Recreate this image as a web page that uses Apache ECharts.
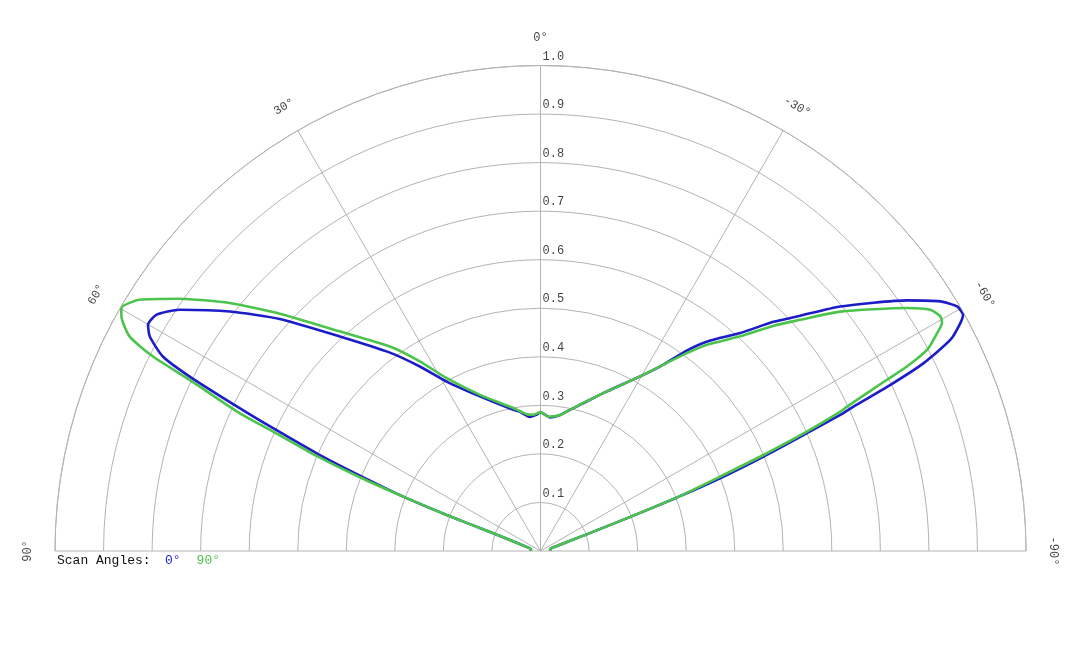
<!DOCTYPE html>
<html><head><meta charset="utf-8">
<script src="https://cdn.jsdelivr.net/npm/echarts@6/dist/echarts.min.js"></script>
<style>html,body{margin:0;padding:0;background:#fff}#c{width:1080px;height:648px}</style>
</head><body><div id="c"></div>
<script>
// ---- data ----
const angleTicks = [-90, -60, -30, 0, 30, 60, 90];
const radiusTicks = [0.1, 0.2, 0.3, 0.4, 0.5, 0.6, 0.7, 0.8, 0.9, 1.0];
const seriesNames = ['0°', '90°'];
const legendTitle = 'Scan Angles:';

// Scan angle 0° (blue): angle (deg) and normalized value
const angles0 = [90, 80, 75.6, 69.4, 69.0, 68.4, 67.35, 66.42, 65.34, 64.6, 63.56, 62.75, 61.24, 60.05, 58.42, 56.24, 52.38, 48.35, 43.09, 37.2, 33.18, 29.0, 21.4, 10.9, 8.4, 5.2, 4.5, 1.6, 0, -1.5, -4.1, -8.2, -12.9, -15.1, -22.6, -29.7, -33.4, -36.1, -38.6, -42.5, -45.47, -47.83, -50.8, -55.65, -58.03, -59.59, -60.8, -61.5, -62.74, -63.88, -64.6, -65.23, -65.58, -66.14, -67.06, -67.95, -68.6, -69.2, -70.2, -76, -84, -90];
const values0 = [0.02, 0.02, 0.022, 0.104, 0.207, 0.304, 0.403, 0.503, 0.606, 0.686, 0.807, 0.875, 0.918, 0.933, 0.929, 0.894, 0.808, 0.719, 0.605, 0.513, 0.454, 0.399, 0.342, 0.296, 0.290, 0.278, 0.277, 0.281, 0.286, 0.282, 0.276, 0.283, 0.302, 0.312, 0.356, 0.414, 0.460, 0.511, 0.553, 0.609, 0.673, 0.722, 0.797, 0.915, 0.971, 0.995, 0.997, 0.984, 0.950, 0.879, 0.798, 0.710, 0.678, 0.600, 0.499, 0.399, 0.301, 0.198, 0.101, 0.022, 0.02, 0.02];

// Scan angle 90° (green)
const angles90 = [90, 80, 75.6, 69.4, 69.0, 68.4, 67.8, 67.0, 65.93, 65.4, 64.0, 63.35, 62.43, 60.78, 59.9, 57.93, 55.04, 51.42, 47.68, 42.44, 36.38, 32.48, 28.5, 21.2, 10.8, 5.1, 3.0, 1.6, 0, -1.5, -3.3, -8.2, -12.9, -22.6, -29.7, -33.4, -36.5, -38.9, -42.95, -45.98, -48.32, -51.38, -56.47, -58.25, -59.6, -60.42, -61.22, -62.5, -63.28, -63.7, -64.77, -65.06, -65.86, -66.7, -67.5, -68.6, -69.2, -70.2, -76, -84, -90];
const values90 = [0.02, 0.02, 0.022, 0.104, 0.207, 0.304, 0.402, 0.501, 0.603, 0.681, 0.804, 0.893, 0.955, 0.989, 0.998, 0.975, 0.907, 0.819, 0.726, 0.613, 0.523, 0.463, 0.405, 0.345, 0.300, 0.282, 0.281, 0.283, 0.286, 0.282, 0.277, 0.283, 0.302, 0.356, 0.414, 0.460, 0.507, 0.546, 0.604, 0.668, 0.716, 0.790, 0.906, 0.944, 0.955, 0.951, 0.932, 0.898, 0.845, 0.796, 0.698, 0.681, 0.601, 0.500, 0.401, 0.301, 0.198, 0.101, 0.022, 0.02, 0.02];

// ---- styling ----
const colors = ['#1c1cc8', '#4cc44c'];
const gridColor = '#b4b4b4';
const textColor = '#111';
const FONT = '"Liberation Mono", "Courier New", monospace';

const zip = (a, v) => a.map((ang, i) => [v[i], ang]);

const chart = echarts.init(document.getElementById('c'), null, { renderer: 'canvas' });
const angleBase = { type: 'value', min: -90, max: 90, interval: 30, startAngle: 0, endAngle: 180, clockwise: false };

chart.setOption({
  animation: false,
  backgroundColor: '#fff',
  title: {
    text: legendTitle, left: 57, top: 554, padding: 0,
    textStyle: { fontFamily: FONT, fontSize: 13, fontWeight: 'normal', color: textColor }
  },
  legend: {
    left: 160, top: 554, padding: 0, itemWidth: 0, itemHeight: 0, itemGap: 11, icon: 'rect',
    selectedMode: false,
    textStyle: { fontFamily: FONT, fontSize: 13 },
    data: seriesNames.map((n, i) => ({ name: n, textStyle: { color: colors[i] } }))
  },
  polar: [
    { center: [540.5, 551], radius: 485.5 },
    { center: [540.5, 551], radius: 513 }
  ],
  angleAxis: [
    Object.assign({}, angleBase, {
      polarIndex: 0,
      axisLine: { show: true, lineStyle: { color: gridColor, width: 1 } },
      axisTick: { show: false },
      axisLabel: { show: false },
      splitLine: { show: true, lineStyle: { color: gridColor, width: 1 } }
    }),
    Object.assign({}, angleBase, { polarIndex: 1, show: false })
  ],
  radiusAxis: [
    {
      polarIndex: 0, type: 'value', min: 0, max: 1, interval: 0.1,
      axisLine: { show: false }, axisTick: { show: false }, axisLabel: { show: false },
      splitLine: { show: true, lineStyle: { color: gridColor, width: 1 } }
    },
    { polarIndex: 1, type: 'value', min: 0, max: 1, show: false }
  ],
  series: [
    {
      name: seriesNames[0], type: 'line', coordinateSystem: 'polar', polarIndex: 0,
      data: zip(angles0, values0), showSymbol: false, symbol: 'none', smooth: 0.2,
      lineStyle: { color: colors[0], width: 2.6 }, itemStyle: { color: colors[0] }, z: 3
    },
    {
      name: seriesNames[1], type: 'line', coordinateSystem: 'polar', polarIndex: 0,
      data: zip(angles90, values90), showSymbol: false, symbol: 'none', smooth: 0.2,
      lineStyle: { color: colors[1], width: 2.6 }, itemStyle: { color: colors[1] }, z: 4
    },
    {
      type: 'scatter', coordinateSystem: 'polar', polarIndex: 1, silent: true,
      symbolSize: 0.1, itemStyle: { color: 'rgba(0,0,0,0)' },
      data: angleTicks.map(a => ({ value: [1, a], label: { rotate: a } })),
      label: {
        show: true, position: 'inside', color: textColor, fontFamily: FONT, fontSize: 12,
        formatter: p => p.value[1] + '°'
      }
    },
    {
      type: 'scatter', coordinateSystem: 'polar', polarIndex: 0, silent: true,
      symbolSize: 0.1, itemStyle: { color: 'rgba(0,0,0,0)' },
      data: radiusTicks.map(r => [r, 0]),
      label: {
        show: true, position: 'right', distance: 2, offset: [0, -9], color: textColor,
        fontFamily: FONT, fontSize: 12,
        formatter: p => p.value[0].toFixed(1)
      }
    }
  ]
});
</script>
</body></html>
